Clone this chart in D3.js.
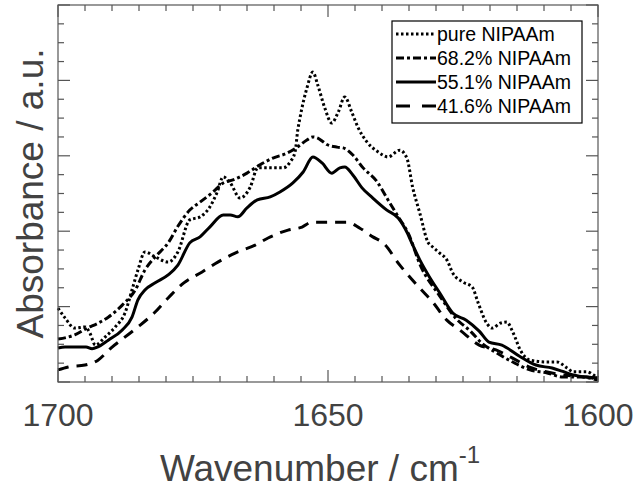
<!doctype html>
<html lang="en">
<head>
  <meta charset="utf-8">
  <title>FTIR amide I</title>
  <style>
    body { margin: 0; background: #fff; }
    svg text { font-family: "Liberation Sans", Arial, sans-serif; fill: #424242; }
  </style>
</head>
<body>
<svg width="636" height="488"></svg>
<script src="https://cdn.jsdelivr.net/npm/d3@7"></script>
<script>

// wavenumbers (cm-1) and absorbance (a.u., 0..1 of the plotted range)
var pureWn  = [1700, 1698.7, 1696.9, 1695.0, 1694.1, 1693.1, 1691.3, 1689.4, 1687.6, 1686.3, 1685.2, 1683.9, 1682.0, 1679.6, 1677.8, 1675.6, 1673.7, 1671.9, 1670.6, 1669.4, 1668.1, 1666.3, 1664.4, 1663.0, 1660.7, 1658.3, 1657.0, 1656.1, 1655.6, 1655.2, 1653.9, 1652.8, 1651.9, 1650.6, 1649.3, 1648.1, 1646.9, 1645.6, 1644.4, 1642.8, 1640.7, 1638.9, 1636.7, 1635.4, 1634.3, 1633.0, 1631.5, 1630.6, 1629.3, 1628.0, 1626.9, 1625.0, 1623.3, 1622.2, 1620.6, 1619.6, 1618.1, 1616.9, 1615.7, 1614.4, 1612.6, 1609.4, 1607.6, 1605.7, 1604.6, 1602.0, 1600.9, 1600];
var pureAbs = [0.196, 0.170, 0.143, 0.146, 0.130, 0.098, 0.119, 0.146, 0.183, 0.244, 0.297, 0.345, 0.332, 0.318, 0.345, 0.430, 0.438, 0.464, 0.501, 0.544, 0.528, 0.488, 0.517, 0.568, 0.568, 0.568, 0.584, 0.610, 0.668, 0.700, 0.780, 0.822, 0.788, 0.727, 0.687, 0.716, 0.756, 0.716, 0.674, 0.637, 0.610, 0.597, 0.615, 0.594, 0.515, 0.448, 0.371, 0.358, 0.342, 0.324, 0.289, 0.265, 0.252, 0.210, 0.156, 0.143, 0.156, 0.159, 0.130, 0.085, 0.058, 0.053, 0.053, 0.037, 0.027, 0.027, 0.019, 0.011];

var p68Wn  = [1700, 1696.9, 1694.6, 1692.6, 1690.7, 1688.1, 1685.7, 1683.9, 1682.0, 1679.6, 1677.8, 1675.6, 1673.7, 1671.3, 1669.4, 1667.6, 1665.0, 1662.6, 1660.2, 1657.6, 1655.7, 1653.9, 1652.8, 1651.9, 1650.9, 1650.2, 1648.3, 1647.2, 1645.4, 1643.5, 1640.9, 1639.1, 1637.2, 1635.0, 1633.0, 1629.3, 1626.4, 1623.5, 1621.5, 1619.1, 1615.4, 1612.6, 1609.4, 1606.5, 1603.3, 1600];
var p68Abs = [0.114, 0.125, 0.143, 0.156, 0.172, 0.204, 0.244, 0.297, 0.332, 0.369, 0.413, 0.456, 0.477, 0.504, 0.528, 0.536, 0.554, 0.576, 0.594, 0.607, 0.623, 0.642, 0.650, 0.647, 0.637, 0.630, 0.623, 0.621, 0.602, 0.568, 0.531, 0.488, 0.443, 0.390, 0.313, 0.228, 0.170, 0.133, 0.103, 0.080, 0.050, 0.032, 0.024, 0.013, 0.013, 0.005];

var p55Wn  = [1700, 1698.7, 1694.8, 1693.7, 1692.6, 1690.7, 1688.1, 1686.3, 1685.2, 1683.9, 1682.0, 1679.6, 1677.8, 1675.6, 1673.7, 1671.9, 1669.4, 1668.1, 1666.7, 1665.0, 1663.1, 1660.7, 1658.9, 1656.5, 1654.6, 1652.8, 1651.1, 1649.3, 1647.8, 1646.9, 1645.4, 1643.7, 1641.7, 1639.1, 1637.0, 1635.4, 1634.3, 1633.0, 1631.1, 1629.3, 1626.9, 1624.4, 1622.0, 1620.2, 1617.8, 1614.6, 1611.5, 1608.5, 1606.7, 1604.6, 1602.0, 1600];
var p55Abs = [0.090, 0.093, 0.093, 0.088, 0.093, 0.111, 0.138, 0.172, 0.218, 0.244, 0.263, 0.284, 0.310, 0.369, 0.385, 0.411, 0.443, 0.443, 0.438, 0.462, 0.483, 0.491, 0.504, 0.528, 0.557, 0.597, 0.581, 0.554, 0.568, 0.570, 0.549, 0.515, 0.488, 0.456, 0.435, 0.398, 0.363, 0.324, 0.276, 0.236, 0.183, 0.164, 0.135, 0.106, 0.098, 0.069, 0.045, 0.037, 0.029, 0.019, 0.013, 0.011];

var p41Wn  = [1700, 1698.1, 1695.0, 1692.6, 1690.2, 1687.8, 1685.2, 1682.2, 1679.6, 1676.7, 1673.3, 1670.4, 1667.2, 1663.5, 1661.1, 1657.4, 1654.8, 1653.0, 1649.6, 1646.5, 1644.1, 1641.7, 1639.8, 1636.7, 1633.0, 1630.6, 1628.0, 1625.6, 1622.0, 1618.9, 1615.9, 1612.8, 1609.6, 1606.7, 1602.2, 1600];
var p41Abs = [0.032, 0.040, 0.045, 0.058, 0.090, 0.117, 0.146, 0.183, 0.223, 0.263, 0.292, 0.318, 0.342, 0.363, 0.382, 0.403, 0.411, 0.424, 0.424, 0.424, 0.408, 0.385, 0.369, 0.310, 0.249, 0.212, 0.164, 0.138, 0.098, 0.085, 0.064, 0.040, 0.027, 0.019, 0.013, 0.008];

var seriesNames = ["pure NIPAAm", "68.2% NIPAAm", "55.1% NIPAAm", "41.6% NIPAAm"];
var seriesDash  = ["2.5,2.5", "8,3,3,3", null, "11,8"];
var legendDash  = ["2.5,2.5", "8,3,3,3", null, "14,12"];
var xMajor = [1700, 1650, 1600];

var series = [
  { wn: pureWn, abs: pureAbs },
  { wn: p68Wn,  abs: p68Abs },
  { wn: p55Wn,  abs: p55Abs },
  { wn: p41Wn,  abs: p41Abs }
];

var svg = d3.select("svg"),
    plotL = 58, plotR = 598, plotT = 5, plotB = 382;

var x = d3.scaleLinear().domain([1700, 1600]).range([plotL, plotR]);
var y = d3.scaleLinear().domain([0, 1]).range([plotB, plotT]);

var xTicks = d3.range(1600, 1700.1, 5),
    yTicks = d3.range(0, 20.1, 1).map(function(k) { return k / 20; });

function isMajorY(v) { return Math.abs(v * 5 - Math.round(v * 5)) < 1e-6; }
function isMajorX(v) { return v % 50 === 0; }

// curves
var line = d3.line()
    .x(function(d) { return x(d[0]); })
    .y(function(d) { return y(d[1]); })
    .curve(d3.curveMonotoneX);

series.forEach(function(s, i) {
  var pts = s.wn.map(function(w, j) { return [w, s.abs[j]]; });
  svg.append("path")
      .datum(pts)
      .attr("d", line)
      .attr("fill", "none")
      .attr("stroke", "#000")
      .attr("stroke-width", 3)
      .attr("stroke-dasharray", seriesDash[i]);
});

// frame with inward ticks on all four sides
var axisColor = "#555";
var g = svg.append("g").attr("stroke", axisColor).attr("stroke-width", 1.2);

g.append("rect")
    .attr("x", plotL).attr("y", plotT)
    .attr("width", plotR - plotL).attr("height", plotB - plotT)
    .attr("fill", "none");

xTicks.forEach(function(v) {
  var len = isMajorX(v) ? 12 : 6, px = x(v);
  g.append("line").attr("x1", px).attr("x2", px).attr("y1", plotB).attr("y2", plotB - len);
  g.append("line").attr("x1", px).attr("x2", px).attr("y1", plotT).attr("y2", plotT + len);
});

yTicks.forEach(function(v) {
  var len = isMajorY(v) ? 12 : 6, py = y(v);
  g.append("line").attr("x1", plotL).attr("x2", plotL + len).attr("y1", py).attr("y2", py);
  g.append("line").attr("x1", plotR).attr("x2", plotR - len).attr("y1", py).attr("y2", py);
});

// tick labels
svg.selectAll(".xlab")
  .data(xMajor)
  .enter().append("text")
    .attr("x", function(d) { return x(d); })
    .attr("y", 426)
    .attr("text-anchor", "middle")
    .style("font-size", "32px")
    .text(function(d) { return d; });

// axis titles
var xt = svg.append("text")
    .attr("x", 320)
    .attr("y", 481)
    .attr("text-anchor", "middle")
    .style("font-size", "37px");
xt.append("tspan").text("Wavenumber / cm");
xt.append("tspan").attr("dy", -18).style("font-size", "24px").text("-1");

svg.append("text")
    .attr("transform", "translate(43," + ((plotT + plotB) / 2) + ") rotate(-90)")
    .attr("text-anchor", "middle")
    .style("font-size", "37px")
    .text("Absorbance / a.u.");

// legend
var lg = svg.append("g");
lg.append("rect")
    .attr("x", 392).attr("y", 21)
    .attr("width", 190).attr("height", 102)
    .attr("fill", "#fff")
    .attr("stroke", "#000")
    .attr("stroke-width", 1.2);

seriesNames.forEach(function(name, i) {
  var cy = 34 + i * 24;
  lg.append("line")
      .attr("x1", 396).attr("x2", 436)
      .attr("y1", cy).attr("y2", cy)
      .attr("stroke", "#000")
      .attr("stroke-width", 3)
      .attr("stroke-dasharray", legendDash[i]);
  lg.append("text")
      .attr("x", 437)
      .attr("y", cy + 7)
      .style("font-size", "19.5px")
      .style("fill", "#000")
      .text(name);
});

</script>
</body>
</html>
